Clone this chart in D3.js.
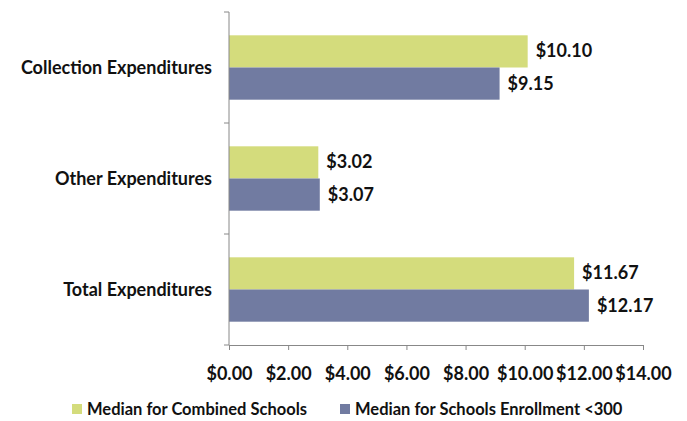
<!DOCTYPE html>
<html><head><meta charset="utf-8">
<script src="https://cdn.jsdelivr.net/npm/d3@7"></script>
<style>body{margin:0;background:#fff;}svg{display:block;}</style>
</head><body>
<script>
const categories = ["Collection Expenditures", "Other Expenditures", "Total Expenditures"];
const seriesNames = ["Median for Combined Schools", "Median for Schools Enrollment <300"];
const combined = [10.10, 3.02, 11.67];
const small = [9.15, 3.07, 12.17];
const xTicks = [0, 2, 4, 6, 8, 10, 12, 14];
const colors = ["#D4DC7C", "#717BA1"];

const W = 687, H = 421;
const m = {left: 229, right: 44, top: 12, bottom: 76};
const font = "Lato, 'Open Sans', sans-serif";
const svg = d3.select("body").append("svg").attr("width", W).attr("height", H);

const x = d3.scaleLinear().domain([0, 14]).range([m.left, W - m.right]);
const y = d3.scaleBand().domain(categories).range([m.top, H - m.bottom]).paddingInner(0.42).paddingOuter(0.21);
const sub = d3.scaleBand().domain([0, 1]).range([0, y.bandwidth()]);

const series = [combined, small];
series.forEach((vals, si) => {
  const g = svg.append("g");
  g.selectAll("rect").data(vals).join("rect")
    .attr("x", x(0)).attr("y", (d, i) => y(categories[i]) + sub(si))
    .attr("width", d => x(d) - x(0)).attr("height", sub.bandwidth())
    .attr("fill", colors[si]);
  g.selectAll("text").data(vals).join("text")
    .attr("x", d => x(d) + 8).attr("y", (d, i) => y(categories[i]) + sub(si) + sub.bandwidth() / 2 + 6)
    .attr("font-family", font).attr("font-weight", "bold").attr("font-size", 18).attr("fill", "#111")
    .text(d => "$" + d.toFixed(2));
});

// y axis
const yAxisG = svg.append("g").attr("transform", `translate(${m.left},0)`);
yAxisG.append("line").attr("x1", 0).attr("x2", 0).attr("y1", m.top).attr("y2", H - m.bottom).attr("stroke", "#888");
const bounds = [m.top, ...categories.map((c, i) => m.top + (i + 1) * (H - m.bottom - m.top) / 3)];
yAxisG.selectAll("line.t").data(bounds).join("line").attr("class", "t")
  .attr("x1", -5).attr("x2", 0).attr("y1", d => d).attr("y2", d => d).attr("stroke", "#888");
yAxisG.selectAll("text").data(categories).join("text")
  .attr("x", -17).attr("y", d => y(d) + y.bandwidth() / 2 + 6).attr("text-anchor", "end")
  .attr("font-family", font).attr("font-weight", "bold").attr("font-size", 18).attr("fill", "#111")
  .text(d => d);

// x axis
const xAxis = d3.axisBottom(x).tickValues(xTicks).tickSize(5).tickSizeOuter(0).tickFormat(d => "$" + d.toFixed(2));
const xg = svg.append("g").attr("transform", `translate(0,${H - m.bottom})`).call(xAxis);
xg.select(".domain").attr("stroke", "#888");
xg.selectAll(".tick line").attr("stroke", "#888");
xg.selectAll(".tick text").attr("dy", 0).attr("y", 35)
  .attr("font-family", font).attr("font-weight", "bold").attr("font-size", 18).attr("fill", "#111");

// legend
const legX = [72, 340];
const leg = svg.append("g");
seriesNames.forEach((n, i) => {
  leg.append("rect").attr("x", legX[i]).attr("y", 404).attr("width", 10).attr("height", 10).attr("fill", colors[i]);
  leg.append("text").attr("x", legX[i] + 15).attr("y", 415)
    .attr("font-family", font).attr("font-weight", "bold").attr("font-size", 16.5).attr("fill", "#111").text(n);
});
</script>
</body></html>
